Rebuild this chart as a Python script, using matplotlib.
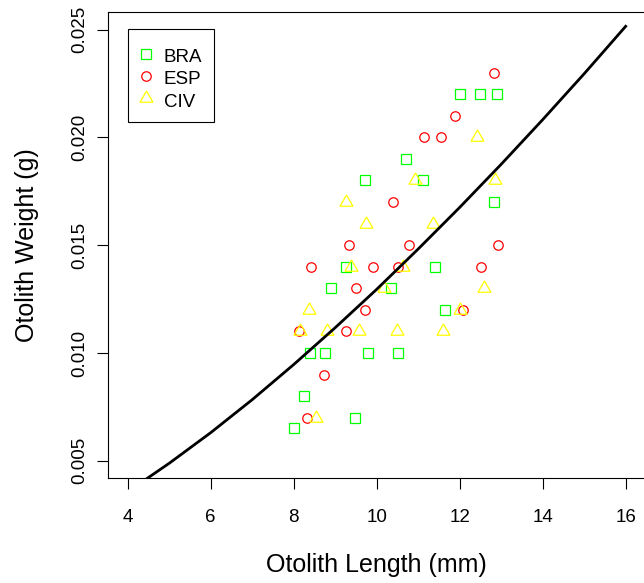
import matplotlib
matplotlib.use('Agg')
from matplotlib import pyplot as plt
from matplotlib.ticker import FixedLocator, FormatStrFormatter

plt.rcParams['font.family'] = ['Liberation Sans', 'DejaVu Sans']

# otolith length (mm) / weight (g) per origin
bra_len = [12.02, 12.49, 12.89, 10.71, 9.71, 11.12, 12.83, 9.26, 11.40, 8.89,
           10.35, 11.65, 8.39, 8.75, 9.78, 10.51, 8.24, 9.49, 8.00]
bra_wt = [0.022, 0.022, 0.022, 0.019, 0.018, 0.018, 0.017, 0.014, 0.014, 0.013,
          0.013, 0.012, 0.010, 0.010, 0.010, 0.010, 0.008, 0.007, 0.0065]

esp_len = [12.83, 11.89, 11.14, 11.56, 10.40, 9.33, 10.79, 12.93, 8.43, 9.92,
           10.51, 12.51, 9.50, 9.71, 12.09, 8.13, 9.27, 8.73, 8.31]
esp_wt = [0.023, 0.021, 0.020, 0.020, 0.017, 0.015, 0.015, 0.015, 0.014, 0.014,
          0.014, 0.014, 0.013, 0.012, 0.012, 0.011, 0.011, 0.009, 0.007]

civ_len = [12.42, 10.92, 12.85, 9.26, 9.74, 11.35, 9.37, 10.64, 10.18, 12.59,
           8.38, 12.01, 8.15, 8.81, 9.58, 10.48, 11.61, 8.53]
civ_wt = [0.020, 0.018, 0.018, 0.017, 0.016, 0.016, 0.014, 0.014, 0.013, 0.013,
          0.012, 0.012, 0.011, 0.011, 0.011, 0.011, 0.011, 0.007]

# fitted length-weight curve
curve_len = [4, 5, 6, 7, 8, 9, 10, 11, 12, 13, 14, 15, 16]
curve_wt = [0.00356, 0.00488, 0.00630, 0.00783, 0.00946, 0.01117, 0.01295,
            0.01482, 0.01675, 0.01875, 0.02082, 0.02295, 0.02515]

x_ticks = [4, 6, 8, 10, 12, 14, 16]
y_ticks = [0.005, 0.010, 0.015, 0.020, 0.025]

W, H = 644, 583
fig = plt.figure(figsize=(W / 100, H / 100), dpi=100)
ax = fig.add_axes([107.7 / W, 1 - 478 / H, (645.6 - 107.7) / W, (478 - 12.3) / H])

# R style 4% padding around xlim=c(4,16), ylim=c(0.005,0.025)
ax.set_xlim(4 - 0.48, 16 + 0.48)
ax.set_ylim(0.005 - 0.0008, 0.025 + 0.0008)

mk = dict(linestyle='none', markerfacecolor='none', markeredgewidth=0.9)
ax.plot(bra_len, bra_wt, marker='s', markersize=6.8, markeredgecolor='#00FF00',
        label='BRA', **mk)
ax.plot(esp_len, esp_wt, marker='o', markersize=6.8, markeredgecolor='#FF0000',
        label='ESP', **mk)
ax.plot(civ_len, civ_wt, marker=(3, 0, 0), markersize=10.8, markeredgecolor='#FFFF00',
        label='CIV', **mk)

ax.plot(curve_len, curve_wt, color='black', linewidth=2.0)

for s in ax.spines.values():
    s.set_linewidth(0.8)

ax.xaxis.set_major_locator(FixedLocator(x_ticks))
ax.yaxis.set_major_locator(FixedLocator(y_ticks))
ax.yaxis.set_major_formatter(FormatStrFormatter('%.3f'))
ax.tick_params(direction='out', length=8, width=0.8, labelsize=13.5, color='black')
ax.tick_params(axis='x', pad=14)
ax.tick_params(axis='y', pad=6)
for lab in ax.get_yticklabels():
    lab.set_rotation(90)
    lab.set_va('center')

ax.set_xlabel('Otolith Length (mm)', fontsize=18, labelpad=20)
ax.set_ylabel('Otolith Weight (g)', fontsize=18, labelpad=23)

# blank tiny title gives the extra room above the first entry
leg = ax.legend(loc='upper left', bbox_to_anchor=(127.7 / W, 1 - 29 / H),
                bbox_transform=fig.transFigure, borderaxespad=0, fontsize=13.5,
                frameon=True, fancybox=False, edgecolor='black', framealpha=1,
                borderpad=0.6, handlelength=0.72, handletextpad=0.61,
                handleheight=1.25, labelspacing=0.1, title=' ', title_fontsize=3)
leg.get_frame().set_linewidth(0.8)

fig.savefig('out.png', dpi=100)
